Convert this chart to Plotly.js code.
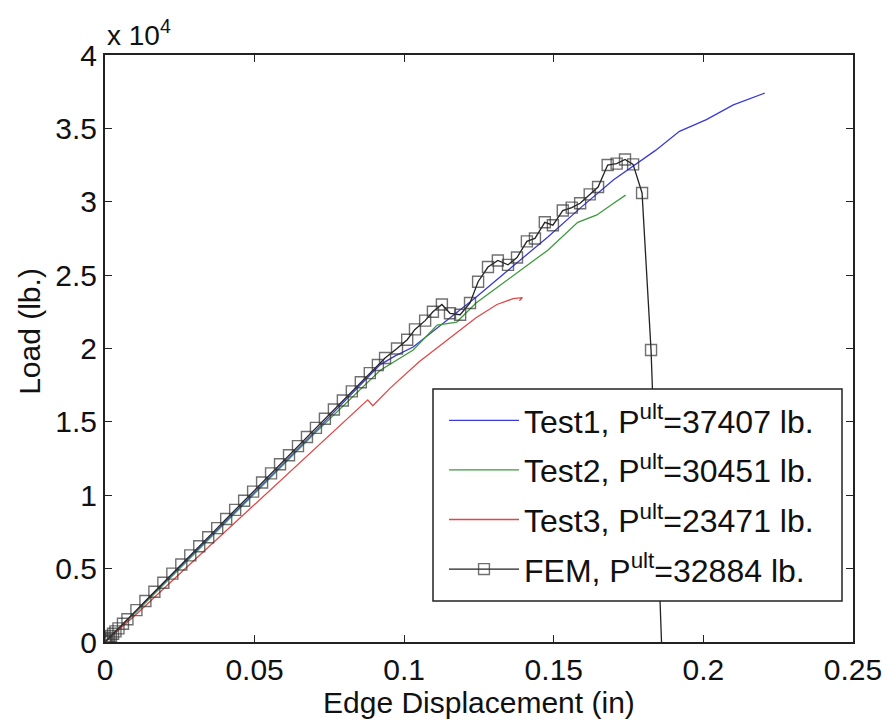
<!DOCTYPE html>
<html>
<head>
<meta charset="utf-8">
<script src="https://cdn.plot.ly/plotly-3.0.1.min.js"></script>
<style>html,body{margin:0;padding:0;background:#fff;}#chart{width:887px;height:725px;}</style>
</head>
<body>
<div id="chart"></div>
<script>
// Test1
const t1X = [0, 0.005, 0.02, 0.0475, 0.07, 0.092, 0.097, 0.103, 0.113, 0.124, 0.136, 0.148, 0.159, 0.170, 0.184, 0.192, 0.201, 0.210, 0.2205];
const t1Y = [0, 950, 4050, 9700, 14300, 18900, 19500, 20100, 21700, 23500, 25550, 27600, 29600, 31500, 33500, 34800, 35600, 36600, 37407];
// Test2
const t2X = [0, 0.005, 0.02, 0.0475, 0.07, 0.0919, 0.103, 0.111, 0.1176, 0.124, 0.136, 0.148, 0.158, 0.1644, 0.170, 0.174];
const t2Y = [0, 950, 4000, 9600, 14200, 18500, 19900, 21600, 21800, 23100, 24900, 26700, 28600, 29100, 29900, 30451];
// Test3
const t3X = [0, 0.01, 0.03, 0.0518, 0.07, 0.0878, 0.0895, 0.0953, 0.105, 0.1143, 0.124, 0.131, 0.1364, 0.1395, 0.1385];
const t3Y = [0, 1800, 5600, 9700, 13100, 16500, 16100, 17300, 19100, 20600, 22100, 23000, 23400, 23471, 23250];
// FEM
const femX = [0, 0.0002, 0.0005, 0.0009, 0.0014, 0.002, 0.0027, 0.0035, 0.0045, 0.006, 0.0075, 0.0105, 0.0135, 0.0165, 0.0195, 0.0225, 0.0255, 0.0285, 0.0315, 0.0345, 0.0375, 0.0405, 0.0435, 0.0465, 0.0495, 0.0525, 0.0555, 0.0585, 0.0615, 0.0645, 0.0675, 0.0705, 0.0735, 0.0765, 0.0795, 0.0825, 0.0855, 0.0885, 0.0912, 0.0936, 0.0976, 0.101, 0.1036, 0.107, 0.1096, 0.1126, 0.1153, 0.1187, 0.122, 0.1247, 0.128, 0.1313, 0.1347, 0.1377, 0.141, 0.1437, 0.147, 0.1497, 0.153, 0.156, 0.1588, 0.162, 0.1648, 0.168, 0.171, 0.1738, 0.1765, 0.1795, 0.1825, 0.186];
const femY = [0, 40, 105, 185, 290, 415, 560, 725, 930, 1240, 1550, 2170, 2790, 3420, 4040, 4660, 5280, 5900, 6520, 7140, 7760, 8380, 9000, 9630, 10250, 10870, 11490, 12110, 12730, 13350, 13970, 14590, 15210, 15840, 16460, 17080, 17700, 18320, 18880, 19350, 20000, 20600, 21300, 21900, 22500, 23000, 22400, 22300, 23100, 24550, 25550, 26000, 25700, 26200, 27300, 27500, 28600, 28400, 29400, 29600, 29900, 30500, 31000, 32500, 32600, 32884, 32550, 30600, 19900, 0];
const femMarked = femX.map((_, i) => i < femX.length - 1);

const names = ['Test1, P<sup>ult</sup>=37407 lb.', 'Test2, P<sup>ult</sup>=30451 lb.', 'Test3, P<sup>ult</sup>=23471 lb.', 'FEM, P<sup>ult</sup>=32884 lb.'];
const yTickVals = [0, 5000, 10000, 15000, 20000, 25000, 30000, 35000, 40000];
const yTickText = ['0', '0.5', '1', '1.5', '2', '2.5', '3', '3.5', '4'];
const xTickVals = [0, 0.05, 0.1, 0.15, 0.2, 0.25];
const xTickText = ['0', '0.05', '0.1', '0.15', '0.2', '0.25'];
const xTitle = 'Edge Displacement (in)';
const yTitle = 'Load (lb.)';

const FONT = 'Liberation Sans, Arial, Helvetica, sans-serif';

const traces = [
  {x: t1X, y: t1Y, name: names[0], legendgroup: 'a', mode: 'lines', line: {color: '#3a3ad6', width: 1.3}},
  {x: t2X, y: t2Y, name: names[1], legendgroup: 'b', mode: 'lines', line: {color: '#3c9a3c', width: 1.3}},
  {x: t3X, y: t3Y, name: names[2], legendgroup: 'c', mode: 'lines', line: {color: '#e04848', width: 1.3}},
  {x: femX, y: femY, name: names[3], legendgroup: 'd', mode: 'lines+markers',
   line: {color: '#222', width: 1.3},
   marker: {symbol: 'square-open', size: femMarked.map(m => m ? 11 : 0), color: '#333', line: {width: 1.4, color: '#333'}}}
];

const axisCommon = {
  showline: true, mirror: 'ticks', linecolor: '#222', linewidth: 2,
  ticks: 'inside', ticklen: 7, tickwidth: 1.2, tickcolor: '#222',
  showgrid: false, zeroline: false,
  tickfont: {family: FONT, size: 30, color: '#111'}
};

const layout = {
  width: 887, height: 725,
  margin: {l: 105, r: 34, t: 55, b: 83},
  paper_bgcolor: '#fff', plot_bgcolor: '#fff',
  font: {family: FONT, color: '#111'},
  showlegend: true,
  xaxis: Object.assign({}, axisCommon, {
    range: [0, 0.25], tickvals: xTickVals, ticktext: xTickText
  }),
  yaxis: Object.assign({}, axisCommon, {
    range: [0, 40000], tickvals: yTickVals, ticktext: yTickText
  }),
  legend: {
    x: 0.4532, y: 0.4242, xanchor: 'left', yanchor: 'top',
    bgcolor: 'rgba(0,0,0,0)', borderwidth: 0,
    font: {family: FONT, size: 32, color: '#111'},
    itemwidth: 70, tracegroupgap: 5
  },
  shapes: [{
    type: 'rect', xref: 'paper', yref: 'paper', layer: 'above',
    x0: 0.4385, x1: 0.9853, y0: 0.0698, y1: 0.431,
    fillcolor: '#fff', line: {color: '#222', width: 1.5}
  }],
  annotations: [
    {xref: 'paper', yref: 'paper', x: 0, y: 1, xanchor: 'left', yanchor: 'bottom',
     text: 'x 10<sup>4</sup>', showarrow: false, yshift: 2,
     font: {family: FONT, size: 28, color: '#111'}},
    {xref: 'paper', yref: 'paper', x: 0.5, y: 0, xanchor: 'center', yanchor: 'middle',
     text: xTitle, showarrow: false, yshift: -60,
     font: {family: FONT, size: 30, color: '#111'}},
    {xref: 'paper', yref: 'paper', x: -0.1003, y: 0.53, xanchor: 'center', yanchor: 'middle',
     text: yTitle, showarrow: false, textangle: -90,
     font: {family: FONT, size: 30, color: '#111'}}
  ]
};

Plotly.newPlot('chart', traces, layout, {displayModeBar: false, staticPlot: true});
</script>
</body>
</html>
